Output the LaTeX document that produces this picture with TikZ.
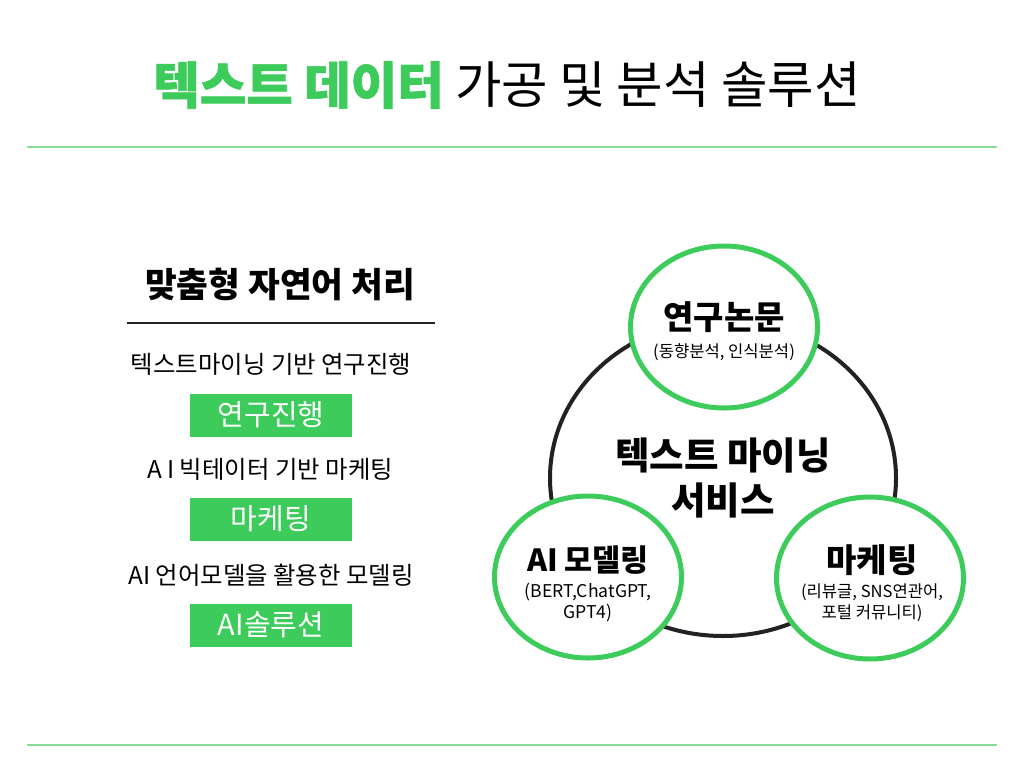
\documentclass[tikz,border=0pt]{standalone}
\usepackage{fontspec}
\setmainfont{Noto Sans CJK KR}
\newfontfamily\heavyfont{Noto Sans CJK KR}[BoldFeatures={FakeBold=1.3}]
\usetikzlibrary{shapes.geometric, positioning}
\definecolor{mintgreen}{HTML}{3DCB5B}
\definecolor{palegreen}{HTML}{8ADB98}
\definecolor{inkgray}{HTML}{222222}

\begin{document}
\begin{tikzpicture}[x=1pt, y=-1pt,
    title/.style={font=\fontsize{50.5}{56}\selectfont},
    heading/.style={font=\bfseries\fontsize{34.5}{38}\selectfont},
    caption/.style={font=\fontsize{24.4}{28}\selectfont},
    tag/.style={fill=mintgreen, text=white, minimum width=162pt, minimum height=43pt,
        inner sep=0pt, font=\fontsize{29}{32}\selectfont},
    bubble/.style={ellipse, draw=mintgreen, line width=5pt, fill=white,
        minimum width=187pt, minimum height=162pt, inner sep=0pt},
    bubtitle/.style={font=\bfseries\fontsize{33}{36}\selectfont},
    bubnote/.style={font=\fontsize{16.6}{21}\selectfont, align=center}]

    \useasboundingbox (0,0) rectangle (1024,768);

    % --- Title and Rules ---
    \node[title] (title) at (507,85) {\textcolor{mintgreen}{\heavyfont\bfseries 텍스트 데이터} 가공 및 분석 솔루션};
    \coordinate (top-l) at (27,147);
    \coordinate (top-r) at (997,147);
    \coordinate (bot-l) at (27,745);
    \coordinate (bot-r) at (997,745);
    \draw[palegreen, line width=1.2pt] (top-l) -- (top-r);
    \draw[palegreen, line width=1.2pt] (bot-l) -- (bot-r);

    % --- Left Column: custom NLP ---
    \node[heading] (nlp) at (280,284) {맞춤형 자연어 처리};
    \coordinate (nlp-l) at (127,323);
    \coordinate (nlp-r) at (435,323);
    \draw[inkgray, line width=1.5pt] (nlp-l) -- (nlp-r);

    \node[caption] (cap-research) at (271,364) {텍스트마이닝 기반 연구진행};
    \node[tag] (tag-research) at (271,415) {연구진행};
    \node[caption] (cap-marketing) at (270,469) {A I 빅테이터 기반 마케팅};
    \node[tag] (tag-marketing) at (271,519) {마케팅};
    \node[caption] (cap-model) at (271,575) {AI 언어모델을 활용한 모델링};
    \node[tag] (tag-model) at (271,625) {AI솔루션};

    % --- Right Side: service ring ---
    \node[ellipse, draw=inkgray, line width=4pt, minimum width=346pt, minimum height=316pt,
        inner sep=0pt, align=center, font=\bfseries\fontsize{37.5}{45}\selectfont]
        (hub) at (723,478) {텍스트 마이닝\\서비스};

    % top bubble
    \node[bubble] (research) at (724,327) {};
    \node[bubtitle] (research-title) at (724,317) {연구논문};
    \node[bubnote] (research-note) at (724,352) {(동향분석, 인식분석)};

    % left bubble
    \node[bubble] (modeling) at (588,577) {};
    \node[bubtitle, font=\bfseries\fontsize{30.5}{34}\selectfont] (modeling-title) at (588,560) {AI 모델링};
    \node[bubnote, font=\fontsize{17.6}{21}\selectfont] (modeling-note) at (588,603) {(BERT,ChatGPT,\\GPT4)};

    % right bubble
    \node[bubble] (marketing) at (870,578) {};
    \node[bubtitle] (marketing-title) at (872,560) {마케팅};
    \node[bubnote] (marketing-note) at (872,603) {(리뷰글, SNS연관어,\\포털 커뮤니티)};

\end{tikzpicture}
\end{document}
